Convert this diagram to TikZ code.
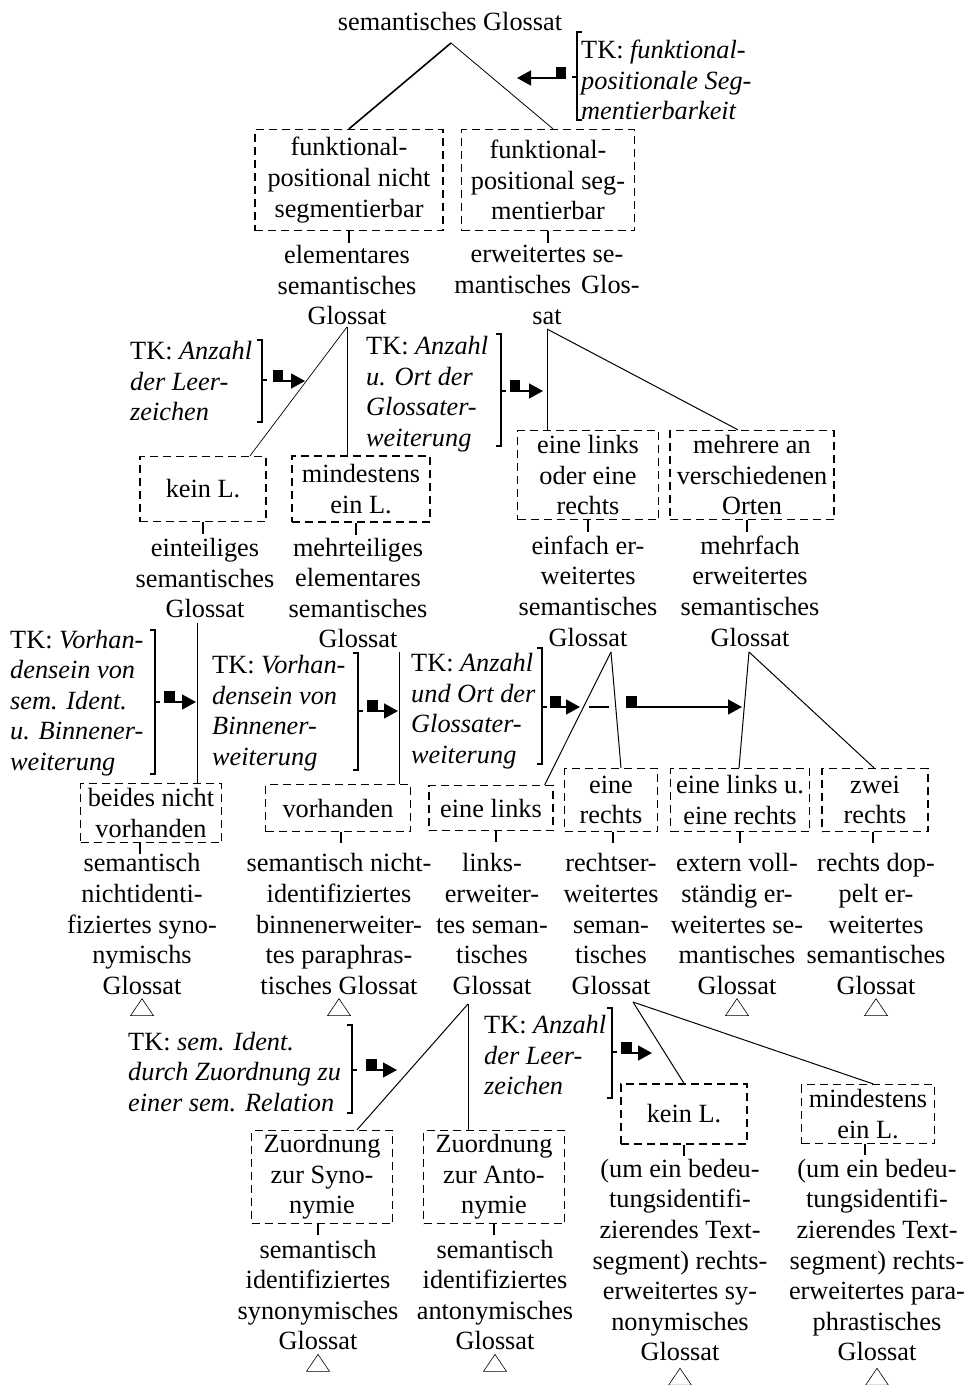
\documentclass[tikz,border=0pt]{standalone}
\usepackage{fontspec}
\setmainfont{Liberation Serif}
\usetikzlibrary{arrows.meta}
\newcommand\gltri[2]{\draw[trist] (#1.south) ++(-11.5,#2+17) -- ++(11.5,-17) -- ++(11.5,17) -- cycle;}
\begin{document}
\begin{tikzpicture}[x=1pt,y=-1pt,
  every node/.style={font=\fontsize{26.3}{30.6}\selectfont,inner sep=0pt,align=center},
  dbox/.style 2 args={draw,line width=1.3pt,dash pattern=on 8pt off 5pt,minimum width=#1pt,minimum height=#2pt},
  tklbl/.style={align=left,anchor=west},
  tree/.style={line width=1pt},
  tickln/.style={line width=2.2pt},
  brack/.style={line width=1.5pt},
  tkarr/.style={line width=1.5pt,-{Triangle[length=14pt,width=15pt]}},
  trist/.style={line width=0.6pt}]
\useasboundingbox (0,0) rectangle (969,1385);

% ---- level 0
\node (root) at (450,22) {semantisches Glossat};
\coordinate (a0) at (451,43);
\node[dbox={188}{101}] (bA) at (349,180) {funktional-\\positional nicht\\segmentierbar};
\node[dbox={173}{101}] (bB) at (548,180) {funktional-\\positional seg-\\mentierbar};
\draw[tree,line width=1.6pt] (a0) -- (bA.north);
\draw[tree,line width=0.8pt] (a0) -- ([xshift=5pt]bB.north);
\node[tklbl] (tk1) at (581,80) {TK: \textit{funktional-}\\\textit{positionale Seg-}\\\textit{mentierbarkeit}};
\draw[brack] (582,32) -- (577,32) -- (577,120) -- (582,120) (577,77) -- (572,77);
\fill (556,67) rectangle (566,78);
\draw[tkarr] (566,78) -- (517,78);
\node (lA) at (347,285) {elementares\\semantisches\\Glossat};
\node (lB) at (547,285) {erweitertes se-\\mantisches\hspace{10pt}Glos-\\sat};
\draw[tickln] (bA.south) -- ++(0,12);
\draw[tickln] (bB.south) -- ++(0,12);

% ---- level 1 left
\coordinate (aA) at (347,327);
\node[dbox={126}{65}] (bKL) at (203,489) {kein L.};
\node[dbox={138}{66}] (bML) at (361,489) {mindestens\\ein L.};
\draw[tree,line width=0.7pt] (aA) -- ([xshift=47pt]bKL.north);
\draw[tree] (aA) -- (aA |- bML.north);
\node[tklbl] (tk2) at (130,381) {TK: \textit{Anzahl}\\\textit{der Leer-}\\\textit{zeichen}};
\draw[brack] (257,340) -- (262,340) -- (262,422) -- (257,422) (262,380) -- (267,380);
\fill (273,370) rectangle (283,381);
\draw[tkarr] (273,381) -- (305,381);
\node (lKL) at (205,578) {einteiliges\\semantisches\\Glossat};
\node (lML) at (358,593) {mehrteiliges\\elementares\\semantisches\\Glossat};
\draw[tickln] (bKL.south) -- ++(0,12);
\draw[tickln] ([xshift=-5pt]bML.south) -- ++(0,12);

% ---- level 1 right
\coordinate (aB) at (547,329);
\node[dbox={141}{89}] (bEL) at (588,475) {eine links\\oder eine\\rechts};
\node[dbox={164}{89}] (bMO) at (752,475) {mehrere an\\verschiedenen\\Orten};
\draw[tree,line width=0.7pt] (aB) -- (aB |- bEL.north);
\draw[tree] (aB) -- ([xshift=-14pt]bMO.north);
\node[tklbl] (tk3) at (366,394) {TK: \textit{Anzahl}\\\textit{u. Ort der}\\\textit{Glossater-}\\\textit{weiterung}};
\draw[brack] (496,334) -- (501,334) -- (501,446) -- (496,446) (501,391) -- (506,391);
\fill (510,380) rectangle (520,391);
\draw[tkarr] (510,391) -- (543,391);
\node (lEL) at (588,591) {einfach er-\\weitertes\\semantisches\\Glossat};
\node (lMO) at (750,591) {mehrfach\\erweitertes\\semantisches\\Glossat};
\draw[tickln] (bEL.south) -- ++(0,12);
\draw[tickln] ([xshift=-5pt]bMO.south) -- ++(0,12);

% ---- level 2 left
\coordinate (aKL) at (197,623);
\node[dbox={141}{59}] (bBN) at (151,813) {beides nicht\\vorhanden};
\draw[tree] (aKL) -- (aKL |- bBN.north);
\node[tklbl] (tk4) at (10,703) {TK: \textit{Vorhan-}\\\textit{densein von}\\\textit{sem. Ident.}\\\textit{u. Binnener-}\\\textit{weiterung}};
\draw[brack] (150,630) -- (155,630) -- (155,774) -- (150,774) (155,702) -- (160,702);
\fill (164,691) rectangle (175,702);
\draw[tkarr] (164,702) -- (196,702);
\node (lBN) at (142,924) {semantisch\\nichtidenti-\\fiziertes syno-\\nymischs\\Glossat};
\draw[tickln] ([xshift=-11pt]bBN.south) -- ++(0,11);
\gltri{lBN}{4}

% ---- level 2 middle
\coordinate (aML) at (399,652);
\node[dbox={145}{47}] (bVH) at (338,808) {vorhanden};
\draw[tree] (aML) -- (aML |- bVH.north);
\node[tklbl] (tk5) at (212,713) {TK: \textit{Vorhan-}\\\textit{densein von}\\\textit{Binnener-}\\\textit{weiterung}};
\draw[brack] (353,653) -- (358,653) -- (358,770) -- (353,770) (358,711) -- (363,711);
\fill (367,700) rectangle (378,711);
\draw[tkarr] (367,711) -- (398,711);
\node (lVH) at (339,924) {semantisch nicht-\\identifiziertes\\binnenerweiter-\\tes paraphras-\\tisches Glossat};
\draw[tickln] ([xshift=3pt]bVH.south) -- ++(0,11);
\gltri{lVH}{4}

% ---- level 2 right
\coordinate (aEL) at (611,652);
\node[dbox={124}{45}] (bLK) at (491,808) {eine links};
\node[dbox={93}{63}] (bRE) at (611,800) {eine\\rechts};
\draw[tree] (aEL) -- ([xshift=-9pt]bLK.north east);
\draw[tree] (aEL) -- ([xshift=10pt]bRE.north);
\node[tklbl] (tk6) at (411,711) {TK: \textit{Anzahl}\\\textit{und Ort der}\\\textit{Glossater-}\\\textit{weiterung}};
\draw[brack] (537,648) -- (542,648) -- (542,764) -- (537,764) (542,707) -- (547,707);
\fill (550,696) rectangle (561,707);
\draw[tkarr] (550,707) -- (580,707);
\coordinate (dsA) at (589,707);
\coordinate (dsB) at (609,707);
\draw[line width=1.5pt] (dsA) -- (dsB);
\fill (626,696) rectangle (637,707);
\draw[tkarr] (626,707) -- (742,707);

\coordinate (aMO) at (749,652);
\node[dbox={139}{63}] (bLR) at (740,800) {eine links u.\\eine rechts};
\node[dbox={106}{63}] (bZR) at (875,800) {zwei\\rechts};
\draw[tree] (aMO) -- ([xshift=-1pt]bLR.north);
\draw[tree] (aMO) -- ([xshift=-1pt]bZR.north);
\node (lLK) at (492,924) {links-\\erweiter-\\tes seman-\\tisches\\Glossat};
\node (lRE) at (611,924) {rechtser-\\weitertes\\seman-\\tisches\\Glossat};
\node (lLR) at (737,924) {extern voll-\\ständig er-\\weitertes se-\\mantisches\\Glossat};
\node (lZR) at (876,924) {rechts dop-\\pelt er-\\weitertes\\semantisches\\Glossat};
\draw[tickln] ([xshift=5pt]bLK.south) -- ++(0,11);
\draw[tickln] ([xshift=2pt]bRE.south) -- ++(0,11);
\draw[tickln] (bLR.south) -- ++(0,11);
\draw[tickln] ([xshift=-2pt]bZR.south) -- ++(0,11);
\gltri{lLR}{4}
\gltri{lZR}{4}

% ---- level 3 left
\coordinate (aLK) at (468,1004);
\node[dbox={141}{93}] (bSY) at (322,1177) {Zuordnung\\zur Syno-\\nymie};
\node[dbox={141}{93}] (bAN) at (494,1177) {Zuordnung\\zur Anto-\\nymie};
\draw[tree] (aLK) -- ([xshift=35pt]bSY.north);
\draw[tree] (aLK) -- (aLK |- bAN.north);
\node[tklbl] (tk7) at (128,1072) {TK: \textit{sem. Ident.}\\\textit{durch Zuordnung zu}\\\textit{einer sem. Relation}};
\draw[brack] (347,1025) -- (352,1025) -- (352,1113) -- (347,1113) (352,1070) -- (357,1070);
\fill (366,1059) rectangle (377,1070);
\draw[tkarr] (366,1070) -- (397,1070);
\node (lSY) at (318,1295) {semantisch\\identifiziertes\\synonymisches\\Glossat};
\node (lAN) at (495,1295) {semantisch\\identifiziertes\\antonymisches\\Glossat};
\draw[tickln] ([xshift=-4pt]bSY.south) -- ++(0,11);
\draw[tickln] (bAN.south) -- ++(0,11);
\gltri{lSY}{4}
\gltri{lAN}{4}

% ---- level 3 right
\coordinate (aRE) at (633,1002);
\node[dbox={126}{60}] (bKL2) at (684,1114) {kein L.};
\node[dbox={133}{59}] (bML2) at (868,1114) {mindestens\\ein L.};
\draw[tree] (aRE) -- (bKL2.north);
\draw[tree] (aRE) -- ([xshift=5pt]bML2.north);
\node[tklbl] (tk8) at (484,1055) {TK: \textit{Anzahl}\\\textit{der Leer-}\\\textit{zeichen}};
\draw[brack] (607,1008) -- (612,1008) -- (612,1098) -- (607,1098) (612,1052) -- (617,1052);
\fill (621,1042) rectangle (632,1053);
\draw[tkarr] (621,1053) -- (652,1053);
\node (lKL2) at (680,1260) {(um ein bedeu-\\tungsidentifi-\\zierendes Text-\\segment) rechts-\\erweitertes sy-\\nonymisches\\Glossat};
\node (lML2) at (877,1260) {(um ein bedeu-\\tungsidentifi-\\zierendes Text-\\segment) rechts-\\erweitertes para-\\phrastisches\\Glossat};
\draw[tickln] (bKL2.south) -- ++(0,11);
\draw[tickln] ([xshift=-3pt]bML2.south) -- ++(0,11);
\gltri{lKL2}{7}
\gltri{lML2}{7}
\end{tikzpicture}
\end{document}
